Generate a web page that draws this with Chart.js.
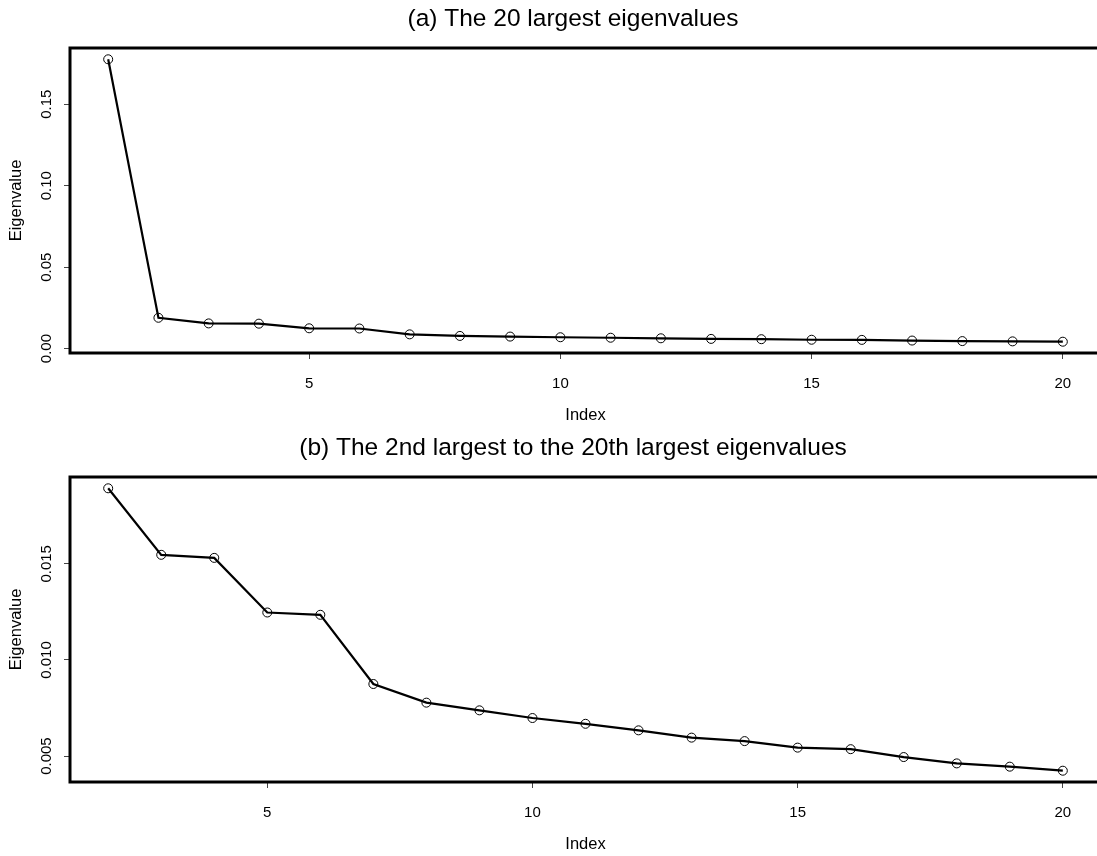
<!DOCTYPE html>
<html>
<head>
<meta charset="utf-8">
<script src="https://cdn.jsdelivr.net/npm/chart.js@4.4.0/dist/chart.umd.min.js"></script>
<style>
  html, body { margin: 0; padding: 0; background: #fff; overflow: hidden; }
  .panel { position: absolute; left: 0; width: 1146px; height: 428px; }
  #panelA { top: 0; }
  #panelB { top: 429px; }
</style>
</head>
<body>
<div class="panel" id="panelA"><canvas id="chartA"></canvas></div>
<div class="panel" id="panelB"><canvas id="chartB"></canvas></div>
<script>
// values
const indices = [1, 2, 3, 4, 5, 6, 7, 8, 9, 10, 11, 12, 13, 14, 15, 16, 17, 18, 19, 20];
const eigenvalues = [0.1776, 0.01893, 0.01547, 0.01531, 0.01247, 0.01235, 0.00875, 0.00778, 0.00738, 0.00698,
                     0.00668, 0.00634, 0.00596, 0.00578, 0.00544, 0.00536, 0.00495, 0.00462, 0.00445, 0.00424];
const xTicks = [5, 10, 15, 20];
const yTicksA = [0, 0.05, 0.10, 0.15];
const yTicksB = [0.005, 0.010, 0.015];
const titleA = "(a) The 20 largest eigenvalues";
const titleB = "(b) The 2nd largest to the 20th largest eigenvalues";

Chart.defaults.font.family = "'Liberation Sans', Arial, sans-serif";
Chart.defaults.color = '#000';
Chart.defaults.animation = false;

// R style axis limits: data range widened by 4% on each side
function rRange(vals) {
    const lo = Math.min(...vals), hi = Math.max(...vals);
    const pad = (hi - lo) * 0.04;
    return { min: lo - pad, max: hi + pad };
}

// thick box round the plot region
const frame = {
    id: 'frame',
    afterDraw(chart) {
        const a = chart.chartArea, c = chart.ctx;
        c.save();
        c.strokeStyle = '#000';
        c.lineWidth = 3;
        c.strokeRect(a.left, a.top, a.right - a.left, a.bottom - a.top);
        c.restore();
    }
};

function makeChart(id, xs, ys, yTicks, digits, title, yPad) {
    const xr = rRange(xs), yr = rRange(ys);
    return new Chart(document.getElementById(id), {
        type: 'line',
        data: {
            datasets: [{
                data: xs.map((x, i) => ({ x, y: ys[i] })),
                borderColor: '#000',
                borderWidth: 2.2,
                tension: 0,
                pointRadius: 4.5,
                pointBorderWidth: 1,
                pointBorderColor: '#000',
                pointBackgroundColor: 'rgba(0,0,0,0)'
            }]
        },
        options: {
            responsive: true,
            maintainAspectRatio: false,
            layout: { padding: 0 },
            plugins: {
                legend: { display: false },
                tooltip: { enabled: false },
                title: {
                    display: true, text: title, color: '#000',
                    font: { size: 24.5, weight: 'normal' },
                    padding: { top: 5, bottom: 13.6 }
                }
            },
            scales: {
                x: {
                    type: 'linear', min: xr.min, max: xr.max,
                    afterBuildTicks: s => { s.ticks = xTicks.map(v => ({ value: v })); },
                    afterFit: s => { s.height = 75; },
                    grid: { drawOnChartArea: false, drawTicks: true, tickLength: 6, color: '#444' },
                    border: { display: false },
                    ticks: { font: { size: 15 }, padding: 16, maxRotation: 0, callback: v => String(v) },
                    title: { display: true, text: 'Index', font: { size: 16.5 }, padding: { top: 0, bottom: 2.4 } }
                },
                y: {
                    type: 'linear', min: yr.min, max: yr.max,
                    afterBuildTicks: s => { s.ticks = yTicks.map(v => ({ value: v })); },
                    afterFit: s => { s.width = 70; },
                    grid: { drawOnChartArea: false, drawTicks: true, tickLength: 6, color: '#444' },
                    border: { display: false },
                    ticks: {
                        font: { size: 15 }, padding: yPad, minRotation: 90, maxRotation: 90,
                        crossAlign: 'center', callback: v => v.toFixed(digits)
                    },
                    title: { display: true, text: 'Eigenvalue', font: { size: 16.5 }, padding: { top: 7, bottom: 0 } }
                },
                // empty scale on the right so the title centres like the original
                yR: {
                    position: 'right', display: true,
                    grid: { display: false }, ticks: { display: false }, border: { display: false },
                    afterFit: s => { s.width = 45; }
                }
            }
        },
        plugins: [frame]
    });
}

makeChart('chartA', indices, eigenvalues, yTicksA, 2, titleA, 2.4);
makeChart('chartB', indices.slice(1), eigenvalues.slice(1), yTicksB, 3, titleB, -1.8);
</script>
</body>
</html>
